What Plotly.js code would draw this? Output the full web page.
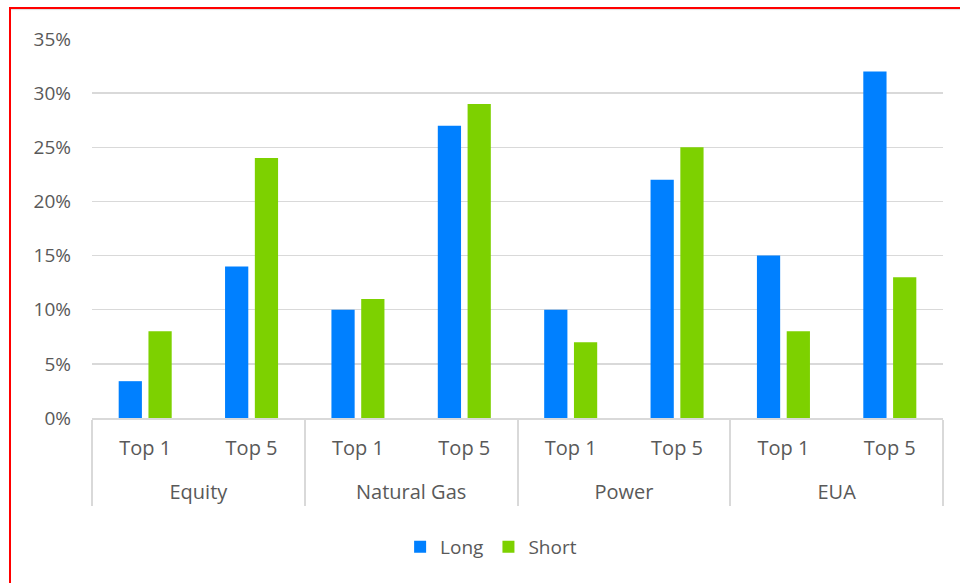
<!DOCTYPE html>
<html><head><meta charset="utf-8">
<script src="https://cdn.plot.ly/plotly-3.0.1.min.js"></script>
<style>
html,body{margin:0;padding:0;background:#fff;overflow:hidden;}
#chart{position:absolute;left:0;top:0;width:960px;height:583px;}
#frame{position:absolute;left:9px;top:7px;width:970px;height:600px;border:2px solid #ff0000;box-sizing:border-box;pointer-events:none;box-shadow:inset 0 2px 1px -1px #ddd;}
</style></head>
<body>
<div id="chart"></div>
<div id="frame"></div>
<script>
const groups = ["Equity","Equity","Natural Gas","Natural Gas","Power","Power","EUA","EUA"];
const subcats = ["Top 1","Top 5","Top 1","Top 5","Top 1","Top 5","Top 1","Top 5"];
const longVals = [0.034, 0.14, 0.10, 0.27, 0.10, 0.22, 0.15, 0.32];
const shortVals = [0.08, 0.24, 0.11, 0.29, 0.07, 0.25, 0.08, 0.13];
const yTicks = [0, 0.05, 0.10, 0.15, 0.20, 0.25, 0.30, 0.35];

// group labels shifted down one line to match the reference spacing
const groupLabels = groups.map(g => "<br>" + g);

const font = {family: "'Open Sans', Lato, sans-serif", size: 19, color: "#595959"};
const xfont = {family: "'Open Sans', Lato, sans-serif", size: 20, color: "#595959"};
const data = [
  {type:"bar", name:"Long", x:[groupLabels, subcats], y:longVals, marker:{color:"#0080ff"}},
  {type:"bar", name:"Short", x:[groupLabels, subcats], y:shortVals, marker:{color:"#7dd100"}}
];
const layout = {
  width:960, height:583,
  margin:{l:92, r:17, t:39, b:165},
  paper_bgcolor:"rgba(0,0,0,0)", plot_bgcolor:"rgba(0,0,0,0)",
  font: font,
  barmode:"group", bargap:0.44, bargroupgap:0.22,
  showlegend:true,
  legend:{orientation:"h", x:0.469, xanchor:"center", y:-0.34, yanchor:"middle", font:font,
          traceorder:"normal", itemwidth:30},
  xaxis:{type:"multicategory", showline:true, linecolor:"#d9d9d9", linewidth:2,
         showdividers:true, dividercolor:"#d9d9d9", dividerwidth:2, tickfont:xfont, showgrid:false,
         ticklabelstandoff:11},
  yaxis:{range:[0,0.35], tickvals:yTicks, tickformat:".0%", gridcolor:"#d9d9d9", gridwidth:1.5,
         zeroline:false, showline:false, tickfont:font, ticklen:0, ticks:"", ticklabelstandoff:20, fixedrange:true}
};
Plotly.newPlot("chart", data, layout, {displayModeBar:false, staticPlot:true});
</script>
</body></html>
